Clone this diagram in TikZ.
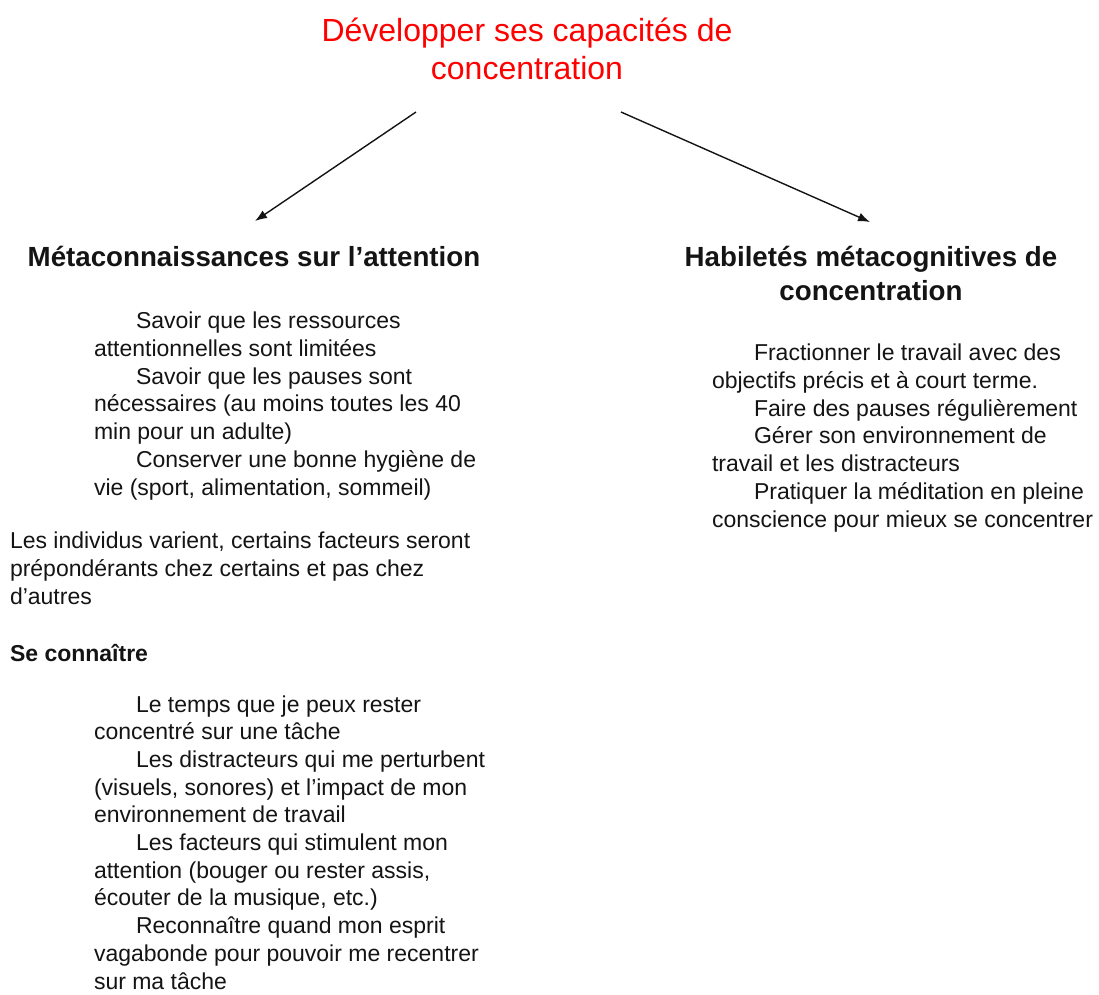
\documentclass[tikz,border=0pt]{standalone}
\usepackage{fontspec}
\setmainfont{Liberation Sans}
\usetikzlibrary{arrows.meta}
\definecolor{titlered}{RGB}{255,0,0}
\definecolor{ink}{RGB}{20,20,20}
\begin{document}
\begin{tikzpicture}[x=1pt,y=-1pt,
  every node/.style={inner sep=0pt, outer sep=0pt, text=ink},
  body/.style={anchor=base west, align=left, font=\fontsize{23}{27.7}\selectfont},
  bodybold/.style={body, font=\bfseries\fontsize{23}{27.7}\selectfont},
  head/.style={anchor=base, align=center, font=\bfseries\fontsize{27.7}{34}\selectfont},
  titletext/.style={anchor=base, align=center, text=titlered, font=\fontsize{32}{38}\selectfont},
  conn/.style={draw=ink, line width=1.4pt, -{Latex[length=12pt,width=9pt]}}]
\useasboundingbox (0,0) rectangle (1099,994);
\newcommand{\ind}{\hspace*{42pt}}
% multi-line nodes: the base anchor is the baseline of the last line
\node[titletext] (title) at (527,79) {Développer ses capacités de\\concentration};

\node[head] (hleft) at (254,266) {Métaconnaissances sur l’attention};
\node[head] (hright) at (871,300) {Habiletés métacognitives de\\concentration};

\coordinate (a1s) at (416,112);
\coordinate (a1e) at (255,221);
\coordinate (a2s) at (621,112);
\coordinate (a2e) at (870,222);
\draw[conn] (a1s) -- (a1e);
\draw[conn] (a2s) -- (a2e);

\node[body] (meta) at (94,495) {\ind Savoir que les ressources\\
attentionnelles sont limitées\\
\ind Savoir que les pauses sont\\
nécessaires (au moins toutes les 40\\
min pour un adulte)\\
\ind Conserver une bonne hygiène de\\
vie (sport, alimentation, sommeil)};

\node[body] (indiv) at (10,604) {Les individus varient, certains facteurs seront\\
prépondérants chez certains et pas chez\\
d’autres};

\node[bodybold] (seco) at (10,661) {Se connaître};

\node[body] (soi) at (94,989) {\ind Le temps que je peux rester\\
concentré sur une tâche\\
\ind Les distracteurs qui me perturbent\\
(visuels, sonores) et l’impact de mon\\
environnement de travail\\
\ind Les facteurs qui stimulent mon\\
attention (bouger ou rester assis,\\
écouter de la musique, etc.)\\
\ind Reconnaître quand mon esprit\\
vagabonde pour pouvoir me recentrer\\
sur ma tâche};

\node[body] (habil) at (712,527) {\ind Fractionner le travail avec des\\
objectifs précis et à court terme.\\
\ind Faire des pauses régulièrement\\
\ind Gérer son environnement de\\
travail et les distracteurs\\
\ind Pratiquer la méditation en pleine\\
conscience pour mieux se concentrer};
\end{tikzpicture}
\end{document}
